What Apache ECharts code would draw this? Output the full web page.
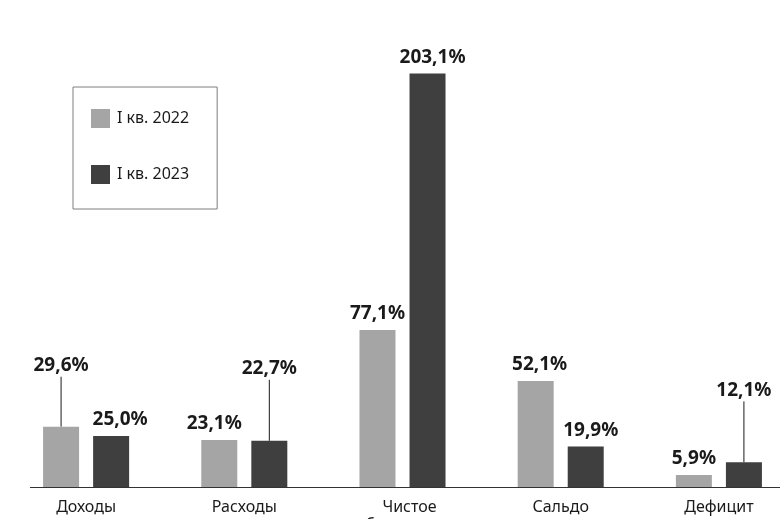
<!DOCTYPE html>
<html>
<head>
<meta charset="utf-8">
<script src="https://cdn.jsdelivr.net/npm/echarts@6/dist/echarts.min.js"></script>
<style>
  html, body { margin: 0; padding: 0; background: #ffffff; }
  #chart { width: 780px; height: 519px; }
</style>
</head>
<body>
<div id="chart"></div>
<script>
// Budget indicators, growth vs. previous year (%)
const categories = ['Доходы', 'Расходы', 'Чистое\nбюджетное\nкредитование', 'Сальдо', 'Дефицит'];
const seriesNames = ['I кв. 2022', 'I кв. 2023'];
const q1_2022 = [29.6, 23.1, 77.1, 52.1, 5.9];
const q1_2023 = [25.0, 22.7, 203.1, 19.9, 12.1];

// Label placement tweaks: [dx, dy] per bar; a dy means the label is lifted and gets a leader line
const labelShift2022 = [[0, -45], [-5, 0], [0, 0], [4, 0], [0, 0]];
const labelShift2023 = [[9, 0], [0, -56], [5, 0], [5, 0], [0, -56]];

const FONT = '"Noto Sans", "DejaVu Sans", sans-serif';
const fmt = v => v.toFixed(1).replace('.', ',') + '%';

function buildData(values, shifts) {
  return values.map((v, i) => {
    const item = { value: v };
    if (shifts[i][1] !== 0) {
      item.labelLine = { show: true };
    }
    return item;
  });
}

function layoutFor(shifts) {
  return params => ({ dx: shifts[params.dataIndex][0], dy: shifts[params.dataIndex][1] });
}

const labelStyle = {
  show: true,
  position: 'top',
  distance: 5,
  fontFamily: FONT,
  fontSize: 19,
  fontWeight: 'bold',
  lineHeight: 22,
  color: '#1a1a1a',
  formatter: p => fmt(p.value)
};

const chart = echarts.init(document.getElementById('chart'), null, { renderer: 'canvas' });

chart.setOption({
  animation: false,
  backgroundColor: '#ffffff',
  grid: { left: 7, width: 791, top: 39, bottom: 32, containLabel: false, outerBoundsMode: 'none' },
  legend: {
    orient: 'vertical',
    left: 73,
    top: 87,
    padding: [22, 28, 25, 18],
    borderColor: '#7f7f7f',
    borderWidth: 1,
    itemWidth: 19,
    itemHeight: 19,
    itemGap: 37,
    icon: 'rect',
    textStyle: { fontFamily: FONT, fontSize: 16, color: '#1a1a1a', padding: [0, 0, 0, 2] },
    data: seriesNames
  },
  xAxis: {
    type: 'category',
    data: categories.map((c, i) => i === 2
      ? { value: c, textStyle: { padding: [0, 0, 0, 14] } }
      : c),
    axisLine: { show: false },
    axisTick: { show: false },
    axisLabel: {
      interval: 0,
      margin: 11,
      fontFamily: FONT,
      fontSize: 16,
      lineHeight: 18,
      color: '#1a1a1a'
    }
  },
  yAxis: { type: 'value', min: 0, max: 220, show: false, splitLine: { show: false } },
  series: [
    {
      name: seriesNames[0],
      type: 'bar',
      barWidth: 36,
      barGap: '39%',
      itemStyle: { color: '#a5a5a5' },
      label: labelStyle,
      labelLayout: layoutFor(labelShift2022),
      labelLine: { show: false, lineStyle: { color: '#1a1a1a', width: 1 } },
      data: buildData(q1_2022, labelShift2022)
    },
    {
      name: seriesNames[1],
      type: 'bar',
      barWidth: 36,
      barGap: '39%',
      itemStyle: { color: '#3f3f3f' },
      label: labelStyle,
      labelLayout: layoutFor(labelShift2023),
      labelLine: { show: false, lineStyle: { color: '#1a1a1a', width: 1 } },
      data: buildData(q1_2023, labelShift2023)
    }
  ]
});

// Baseline under the bars, starting a little right of the left edge
const baseY = Math.round(chart.convertToPixel({ gridIndex: 0 }, [0, 0])[1]) + 0.5;
chart.setOption({
  graphic: [{
    type: 'line',
    z: 10,
    shape: { x1: 30, y1: baseY, x2: 780, y2: baseY },
    style: { stroke: '#333333', lineWidth: 1.2 }
  }]
});
</script>
</body>
</html>
